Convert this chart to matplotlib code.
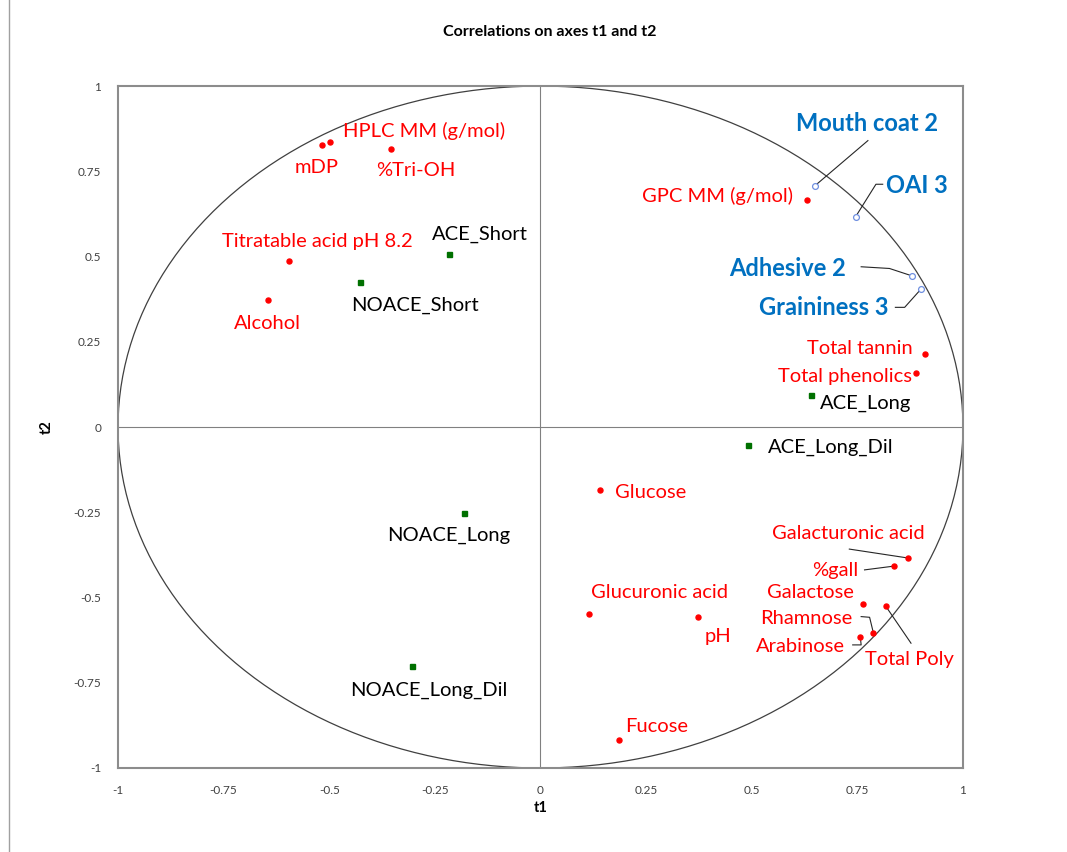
import numpy as np
import matplotlib
matplotlib.use("Agg")
import matplotlib.pyplot as plt

plt.rcParams['font.family'] = ['Lato', 'DejaVu Sans']

# active variables (red dots)
var_names = ['HPLC MM (g/mol)', 'mDP', '%Tri-OH', 'Titratable acid pH 8.2', 'Alcohol',
             'GPC MM (g/mol)', 'Total tannin', 'Total phenolics', 'Glucose',
             'Galacturonic acid', '%gall', 'Galactose', 'Total Poly', 'Rhamnose',
             'Arabinose', 'Glucuronic acid', 'pH', 'Fucose']
var_t1 = [-0.499, -0.518, -0.353, -0.596, -0.644, 0.630, 0.911, 0.890, 0.140,
          0.869, 0.836, 0.764, 0.817, 0.788, 0.757, 0.116, 0.372, 0.187]
var_t2 = [0.836, 0.827, 0.815, 0.487, 0.372, 0.666, 0.214, 0.158, -0.185,
          -0.384, -0.408, -0.519, -0.525, -0.604, -0.616, -0.548, -0.557, -0.918]

# supplementary sensory variables (blue circles)
sens_names = ['Mouth coat 2', 'OAI 3', 'Adhesive 2', 'Graininess 3']
sens_t1 = [0.649, 0.746, 0.880, 0.901]
sens_t2 = [0.707, 0.617, 0.443, 0.405]

# observations (green squares)
obs_names = ['ACE_Short', 'NOACE_Short', 'ACE_Long', 'ACE_Long_Dil', 'NOACE_Long', 'NOACE_Long_Dil']
obs_t1 = [-0.217, -0.428, 0.641, 0.490, -0.182, -0.303]
obs_t2 = [0.506, 0.424, 0.094, -0.053, -0.252, -0.701]

# label placement (text centres) in axis units
var_label_pos = [(-0.275, 0.868), (-0.530, 0.760), (-0.296, 0.751), (-0.528, 0.545),
                 (-0.646, 0.305), (0.419, 0.677), (0.755, 0.229), (0.720, 0.147),
                 (0.260, -0.191), (0.729, -0.311), (0.698, -0.422), (0.639, -0.484),
                 (0.873, -0.683), (0.630, -0.563), (0.615, -0.645), (0.282, -0.484),
                 (0.421, -0.613), (0.275, -0.877)]
sens_label_pos = [(0.774, 0.891), (0.892, 0.707), (0.585, 0.466), (0.670, 0.352)]
obs_label_pos = [(-0.144, 0.566), (-0.296, 0.358), (0.769, 0.070), (0.686, -0.059),
                 (-0.218, -0.317), (-0.265, -0.771)]

# leader lines: label name -> intermediate points (from label side)
leaders = {
    'Mouth coat 2': [(0.775, 0.840)],
    'OAI 3': [(0.810, 0.712), (0.794, 0.712)],
    'Adhesive 2': [(0.759, 0.470), (0.826, 0.465)],
    'Graininess 3': [(0.840, 0.351), (0.862, 0.351)],
    'Galacturonic acid': [(0.731, -0.358)],
    '%gall': [(0.767, -0.419)],
    'Rhamnose': [(0.759, -0.556), (0.779, -0.558)],
    'Arabinose': [(0.739, -0.639), (0.759, -0.639)],
    'Total Poly': [(0.877, -0.634)],
}

fig = plt.figure(figsize=(10.67, 8.52), dpi=100)
ax = fig.add_axes([0.1106, 0.0986, 0.7919, 0.8004])

# correlation circle and axes through origin
theta = np.linspace(0, 2 * np.pi, 400)
ax.plot(np.cos(theta), np.sin(theta), color='#404040', lw=0.9, zorder=1)
ax.axhline(0, color='#808080', lw=0.8, zorder=1)
ax.axvline(0, color='#808080', lw=0.8, zorder=1)

# leader lines
all_pts = {}
for n, x, y in zip(var_names, var_t1, var_t2):
    all_pts[n] = (x, y)
for n, x, y in zip(sens_names, sens_t1, sens_t2):
    all_pts[n] = (x, y)
for name, pts in leaders.items():
    xs = [p[0] for p in pts] + [all_pts[name][0]]
    ys = [p[1] for p in pts] + [all_pts[name][1]]
    ax.plot(xs, ys, color='#262626', lw=0.8, zorder=2)

ax.plot(var_t1, var_t2, 'o', color='#ff0000', ms=3.6, zorder=3)
ax.plot(sens_t1, sens_t2, 'o', mfc='white', mec='#6f8fe0', mew=0.9, ms=4.2, zorder=3)
ax.plot(obs_t1, obs_t2, 's', color='#007000', ms=3.6, zorder=3)

for n, (lx, ly) in zip(var_names, var_label_pos):
    ax.text(lx, ly, n, color='#ff0000', fontsize=14.5, ha='center', va='center')
for n, (lx, ly) in zip(sens_names, sens_label_pos):
    ax.text(lx, ly, n, color='#0070c0', fontsize=17, fontweight='bold', ha='center', va='center')
for n, (lx, ly) in zip(obs_names, obs_label_pos):
    ax.text(lx, ly, n, color='#000000', fontsize=14.5, ha='center', va='center')

ax.set_xlim(-1, 1)
ax.set_ylim(-1, 1)
ticks = [-1, -0.75, -0.5, -0.25, 0, 0.25, 0.5, 0.75, 1]
tick_labels = ['-1', '-0.75', '-0.5', '-0.25', '0', '0.25', '0.5', '0.75', '1']
ax.set_xticks(ticks)
ax.set_xticklabels(tick_labels)
ax.set_yticks(ticks)
ax.set_yticklabels(tick_labels)
ax.tick_params(length=0, labelsize=8.5, labelcolor='#404040', pad=12)
for s in ax.spines.values():
    s.set_color('#8c8c8c')
    s.set_linewidth(1.5)

ax.set_xlabel('t1', fontsize=10.5, fontweight='bold', labelpad=4)
ax.set_ylabel('t2', fontsize=10.5, fontweight='bold', labelpad=14)
fig.text(0.5155, 0.962, 'Correlations on axes t1 and t2', ha='center', va='center',
         fontsize=11.5, fontweight='bold')

# left border of the chart area
fig.add_artist(plt.Line2D([0.008, 0.008], [0, 1], color='#a0a0a0', lw=1, transform=fig.transFigure))

fig.savefig('out.png', dpi=100, facecolor='white')
